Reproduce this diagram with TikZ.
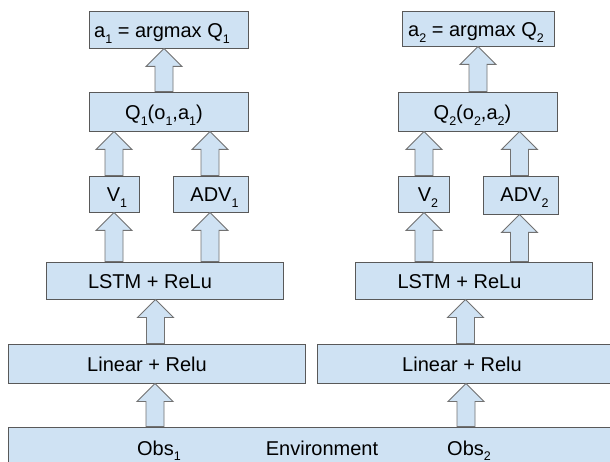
\documentclass[tikz,border=0pt]{standalone}
\usepackage{fontspec}
\setmainfont{Liberation Sans}
\usetikzlibrary{calc,fit}
\definecolor{boxfill}{HTML}{CFE2F3}
\definecolor{boxline}{HTML}{595959}
\newcommand{\sbs}[1]{\raisebox{-6pt}{\fontsize{12.5}{12.5}\selectfont #1}}
\newcommand{\sbsl}[1]{\raisebox{-4.5pt}{\fontsize{12.5}{12.5}\selectfont #1}}
\newcommand{\barrow}[3]{\draw[arr] let \p1=(#1.north), \p2=(#2.south) in
  (#3pt-9pt,\y1) -- (#3pt-9pt,\y2-18pt) -- (#3pt-18pt,\y2-18pt) -- (#3pt,\y2)
  -- (#3pt+18pt,\y2-18pt) -- (#3pt+9pt,\y2-18pt) -- (#3pt+9pt,\y1) -- cycle;}
\tikzset{
  box/.style={draw=boxline, fill=boxfill, line width=0.9pt, inner sep=0pt},
  arr/.style={draw=boxline!85, fill=boxfill, line width=0.9pt, line join=miter},
  lbl/.style={anchor=base, inner sep=0pt, font=\fontsize{20}{22}\selectfont, text=black}
}
\begin{document}
\begin{tikzpicture}[x=1pt,y=-1pt]
\clip (0,0) rectangle (610,462);
\fill[white] (0,0) rectangle (610,462);
% boxes, left
\node[box, fit={(89,11) (248,48)}] (a1) {};
\node[box, fit={(89,92) (248,131)}] (q1) {};
\node[box, fit={(89,176) (139,212)}] (v1) {};
\node[box, fit={(173,176) (248,212)}] (adv1) {};
\node[box, fit={(46,262) (283,299)}] (lstm1) {};
\node[box, fit={(8,344) (305,383)}] (lin1) {};
% boxes, right
\node[box, fit={(402,11) (554,46)}] (a2) {};
\node[box, fit={(398,92) (557,131)}] (q2) {};
\node[box, fit={(398,176) (449,212)}] (v2) {};
\node[box, fit={(483,176) (558,214)}] (adv2) {};
\node[box, fit={(355,262) (592,299)}] (lstm2) {};
\node[box, fit={(317,344) (625,383)}] (lin2) {};
% environment
\node[box, fit={(8,427) (625,480)}] (env) {};
% labels
\node[lbl] (ta1) at (162,37.5) {a\sbs{1} = argmax Q\sbs{1}};
\node[lbl] (tq1) at (164,119.5) {Q\sbs{1}(o\sbs{1},a\sbs{1})};
\node[lbl] (tv1) at (117,202) {V\sbs{1}};
\node[lbl] (tadv1) at (214.5,202) {ADV\sbs{1}};
\node[lbl] (tlstm1) at (150,288.5) {LSTM + ReLu};
\node[lbl] (tlin1) at (147,371.5) {Linear + Relu};
\node[lbl] (ta2) at (476,36.5) {a\sbs{2} = argmax Q\sbs{2}};
\node[lbl] (tq2) at (472.5,119.5) {Q\sbs{2}(o\sbs{2},a\sbs{2})};
\node[lbl] (tv2) at (428,202) {V\sbs{2}};
\node[lbl] (tadv2) at (524.5,202) {ADV\sbs{2}};
\node[lbl] (tlstm2) at (459.5,288.5) {LSTM + ReLu};
\node[lbl] (tlin2) at (462,371.5) {Linear + Relu};
\node[lbl] (tobs1) at (159,455.5) {Obs\sbsl{1}};
\node[lbl] (tenv) at (322,455.5) {Environment};
\node[lbl] (tobs2) at (469,455.5) {Obs\sbsl{2}};
% block arrows, left
\barrow{q1}{a1}{164}
\barrow{v1}{q1}{114}
\barrow{adv1}{q1}{210}
\barrow{lstm1}{v1}{114}
\barrow{lstm1}{adv1}{210}
\barrow{lin1}{lstm1}{155.5}
\barrow{env}{lin1}{155}
% block arrows, right
\barrow{q2}{a2}{478}
\barrow{v2}{q2}{424}
\barrow{adv2}{q2}{519.5}
\barrow{lstm2}{v2}{424}
\barrow{lstm2}{adv2}{519.5}
\barrow{lin2}{lstm2}{465.5}
\barrow{env}{lin2}{466}
\end{tikzpicture}
\end{document}
